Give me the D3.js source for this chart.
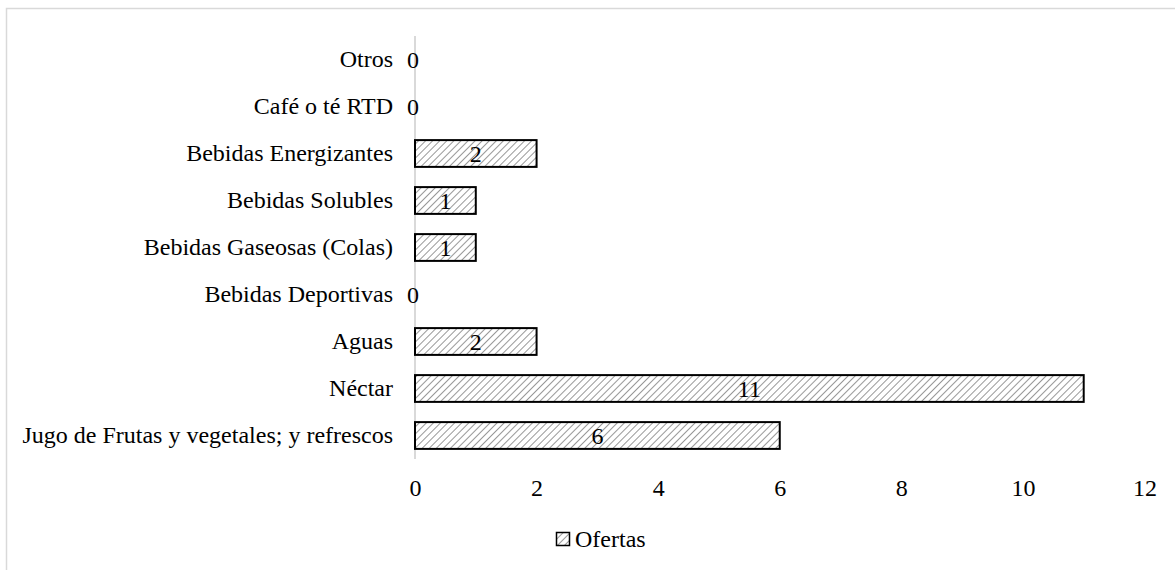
<!DOCTYPE html>
<html>
<head>
<meta charset="utf-8">
<script src="https://cdn.jsdelivr.net/npm/d3@7"></script>
<style>
  html, body { margin: 0; padding: 0; background: #fff; }
  svg { display: block; font-family: "Liberation Serif", "Times New Roman", serif; }
</style>
</head>
<body>
<svg id="chart" width="1175" height="570"></svg>
<script>
// Categories listed top to bottom, with the number of offers in each
const categories = [
  "Otros",
  "Café o té RTD",
  "Bebidas Energizantes",
  "Bebidas Solubles",
  "Bebidas Gaseosas (Colas)",
  "Bebidas Deportivas",
  "Aguas",
  "Néctar",
  "Jugo de Frutas y vegetales; y refrescos"
];
const ofertas = [0, 0, 2, 1, 1, 0, 2, 11, 6];
const xTicks = [0, 2, 4, 6, 8, 10, 12];
const seriesName = "Ofertas";

const data = categories.map((c, i) => ({ cat: c, value: ofertas[i] }));

const svg = d3.select("#chart");
const fontSize = 24;
const serif = "'Liberation Serif', 'Times New Roman', serif";

// Outer frame (the chart area border runs off the right and bottom edges)
svg.append("rect")
  .attr("x", 6.5).attr("y", 8.5)
  .attr("width", 1200).attr("height", 600)
  .attr("fill", "none")
  .attr("stroke", "#d9d9d9")
  .attr("stroke-width", 1.5);

// Diagonal hatch fill for the bars
const defs = svg.append("defs");
const pat = defs.append("pattern")
  .attr("id", "hatch")
  .attr("patternUnits", "userSpaceOnUse")
  .attr("width", 5).attr("height", 5)
  .attr("patternTransform", "rotate(45)");
pat.append("rect").attr("width", 5).attr("height", 5).attr("fill", "#fff");
pat.append("line")
  .attr("x1", 0).attr("y1", 0).attr("x2", 0).attr("y2", 5)
  .attr("stroke", "#8c8c8c").attr("stroke-width", 1.8);

const x = d3.scaleLinear().domain([0, 12]).range([415, 1144.5]);
const y = d3.scaleBand().domain(categories).range([36, 459])
  .paddingInner(0.43).paddingOuter(0.215);

// Vertical category axis line
svg.append("line")
  .attr("x1", x(0)).attr("x2", x(0))
  .attr("y1", 36).attr("y2", 459)
  .attr("stroke", "#d9d9d9").attr("stroke-width", 2);

// Category labels
const yAxis = svg.append("g")
  .attr("transform", `translate(${x(0)},0)`)
  .call(d3.axisLeft(y).tickSize(0).tickPadding(22));
yAxis.select(".domain").remove();
yAxis.attr("font-family", serif).attr("font-size", fontSize);
yAxis.selectAll("text")
  .attr("font-family", serif)
  .attr("font-size", fontSize)
  .attr("fill", "#000");

// Value axis tick labels
const xAxis = svg.append("g")
  .attr("transform", `translate(0,459)`)
  .call(d3.axisBottom(x).tickValues(xTicks).tickSize(0).tickPadding(20).tickFormat(d3.format("d")));
xAxis.select(".domain").remove();
xAxis.attr("font-family", serif).attr("font-size", fontSize);
xAxis.selectAll("text")
  .attr("font-family", serif)
  .attr("font-size", fontSize)
  .attr("fill", "#000");

// Bars
svg.append("g").selectAll("rect")
  .data(data.filter(d => d.value > 0))
  .join("rect")
  .attr("x", x(0))
  .attr("y", d => y(d.cat))
  .attr("width", d => x(d.value) - x(0))
  .attr("height", y.bandwidth())
  .attr("fill", "url(#hatch)")
  .attr("stroke", "#000")
  .attr("stroke-width", 2);

// Value labels, centred on each bar
svg.append("g").selectAll("text")
  .data(data)
  .join("text")
  .attr("x", d => d.value > 0 ? x(d.value / 2) : x(0) - 2)
  .attr("y", d => y(d.cat) + y.bandwidth() / 2)
  .attr("dy", "0.35em")
  .attr("text-anchor", "middle")
  .attr("font-family", serif)
  .attr("font-size", fontSize)
  .attr("fill", "#000")
  .text(d => d.value);

// Legend
const legend = svg.append("g").attr("transform", "translate(556,532)");
legend.append("rect")
  .attr("x", 0.5).attr("y", 0.5)
  .attr("width", 13).attr("height", 13)
  .attr("fill", "url(#hatch)")
  .attr("stroke", "#000").attr("stroke-width", 1.5);
legend.append("text")
  .attr("x", 19).attr("y", 7)
  .attr("dy", "0.35em")
  .attr("font-family", serif)
  .attr("font-size", fontSize)
  .attr("fill", "#000")
  .text(seriesName);
</script>
</body>
</html>
